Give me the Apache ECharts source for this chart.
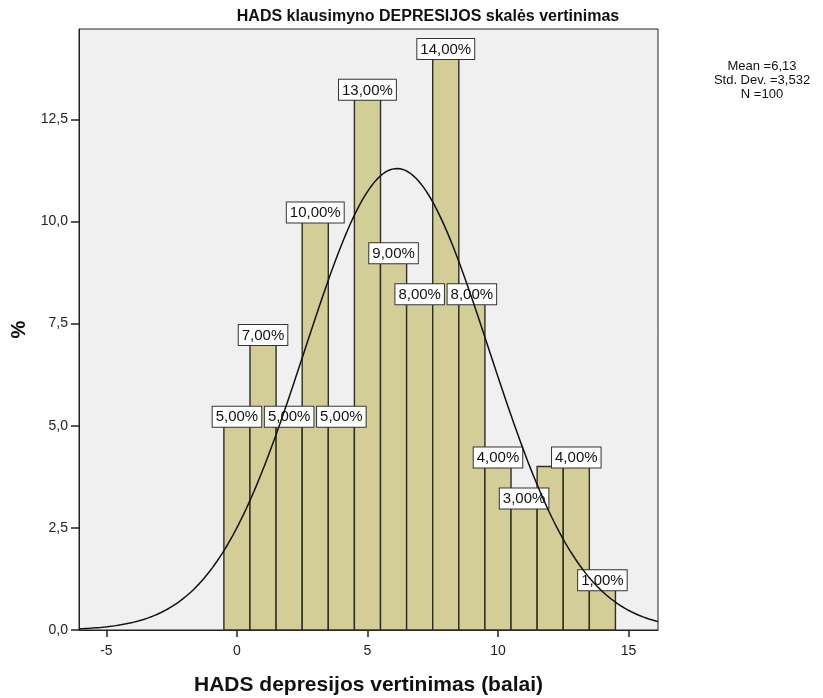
<!DOCTYPE html>
<html>
<head>
<meta charset="utf-8">
<script src="https://cdn.jsdelivr.net/npm/echarts@6/dist/echarts.min.js"></script>
<style>html,body{margin:0;padding:0;background:#fff;}#c{width:823px;height:698px;}</style>
</head>
<body>
<div id="c"></div>
<script>
// ---- data ----
const scores = [0, 1, 2, 3, 4, 5, 6, 7, 8, 9, 10, 11, 12, 13, 14];
const percents = [5, 7, 5, 10, 5, 13, 9, 8, 14, 8, 4, 3, 4, 4, 1];
const labelShown = [1, 1, 1, 1, 1, 1, 1, 1, 1, 1, 1, 1, 0, 1, 1];
const xTicks = [-5, 0, 5, 10, 15];
const yTicks = [0, 2.5, 5, 7.5, 10, 12.5];
const meanVal = 6.13;
const sdVal = 3.532;
const nVal = 100;
const titleText = 'HADS klausimyno DEPRESIJOS skalės vertinimas';
const xName = 'HADS depresijos vertinimas (balai)';
const yName = '%';

const FONT = '"Liberation Sans", Arial, sans-serif';
const fmt = (v, d) => v.toFixed(d).replace('.', ',');
const X_MIN = -6.05, X_MAX = 16.13;

// normal curve fitted from the stated mean / std. dev. (percent per unit bin)
const curve = [];
const normPct = x => 100 / (sdVal * Math.sqrt(2 * Math.PI)) * Math.exp(-0.5 * Math.pow((x - meanVal) / sdVal, 2));
for (let x = X_MIN; x < X_MAX; x += 0.1) curve.push([x, normPct(x)]);
curve.push([X_MAX, normPct(X_MAX)]);

const chart = echarts.init(document.getElementById('c'), null, {renderer: 'canvas'});
chart.setOption({
  animation: false,
  textStyle: {fontFamily: FONT},
  grid: {left: 79, right: 165, top: 29, bottom: 68, outerBoundsMode: 'none', containLabel: false,
         show: true, backgroundColor: '#f0f0f0', borderColor: '#222', borderWidth: 1},
  xAxis: {
    type: 'value', min: X_MIN, max: X_MAX,
    name: xName, nameLocation: 'middle', nameGap: 45,
    nameTextStyle: {fontSize: 21, fontWeight: 'bold', color: '#111', fontFamily: FONT},
    axisLine: {show: true, onZero: false, lineStyle: {color: '#222', width: 1}},
    axisTick: {show: true, length: 7, lineStyle: {color: '#222', width: 1.5}, customValues: xTicks},
    axisLabel: {color: '#222', fontSize: 14, margin: 14, customValues: xTicks, formatter: v => String(v)},
    splitLine: {show: false}
  },
  yAxis: {
    type: 'value', min: 0, max: 14.71,
    name: yName, nameLocation: 'middle', nameGap: 49, nameRotate: 90,
    nameTextStyle: {fontSize: 20, fontWeight: 'bold', color: '#111', fontFamily: FONT},
    axisLine: {show: true, onZero: false, lineStyle: {color: '#222', width: 1}},
    axisTick: {show: true, length: 8, lineStyle: {color: '#222', width: 1.5}, customValues: yTicks},
    axisLabel: {color: '#222', fontSize: 14, margin: 11, customValues: yTicks, formatter: v => fmt(v, 1)},
    splitLine: {show: false}
  },
  graphic: [
    {type: 'text', style: {text: titleText, x: 428, y: 17, align: 'center', verticalAlign: 'middle', font: 'bold 16px ' + FONT, fill: '#111'}},
    {type: 'text', style: {text: 'Mean =' + fmt(meanVal, 2), x: 762, y: 66, align: 'center', verticalAlign: 'middle', font: '13px ' + FONT, fill: '#111'}},
    {type: 'text', style: {text: 'Std. Dev. =' + fmt(sdVal, 3), x: 762, y: 80, align: 'center', verticalAlign: 'middle', font: '13px ' + FONT, fill: '#111'}},
    {type: 'text', style: {text: 'N =' + nVal, x: 762, y: 94, align: 'center', verticalAlign: 'middle', font: '13px ' + FONT, fill: '#111'}}
  ],
  series: [
    {
      type: 'custom', z: 2,
      data: scores.map((s, i) => [s, percents[i], labelShown[i]]),
      renderItem: function (params, api) {
        const x = api.value(0), y = api.value(1), show = api.value(2);
        const p0 = api.coord([x - 0.5, y]);
        const p1 = api.coord([x + 0.5, 0]);
        const top = p0[1];
        const children = [
          {type: 'rect', shape: {x: p0[0], y: top, width: p1[0] - p0[0], height: p1[1] - top},
           style: {fill: '#d3ce98', stroke: '#2e2e22', lineWidth: 1.4}}
        ];
        if (show) {
          children.push({type: 'text', z2: 10, style: {
            text: fmt(y, 2) + '%', x: (p0[0] + p1[0]) / 2, y: top + 1, align: 'center', verticalAlign: 'bottom',
            font: '15px ' + FONT, fill: '#111', backgroundColor: '#fff', borderColor: '#333', borderWidth: 1,
            padding: [3, 3, 2, 3]}});
        }
        return {type: 'group', children: children};
      }
    },
    {
      type: 'line', z: 5, data: curve, showSymbol: false, smooth: false,
      lineStyle: {color: '#111', width: 1.5}, silent: true
    }
  ]
});
</script>
</body>
</html>
